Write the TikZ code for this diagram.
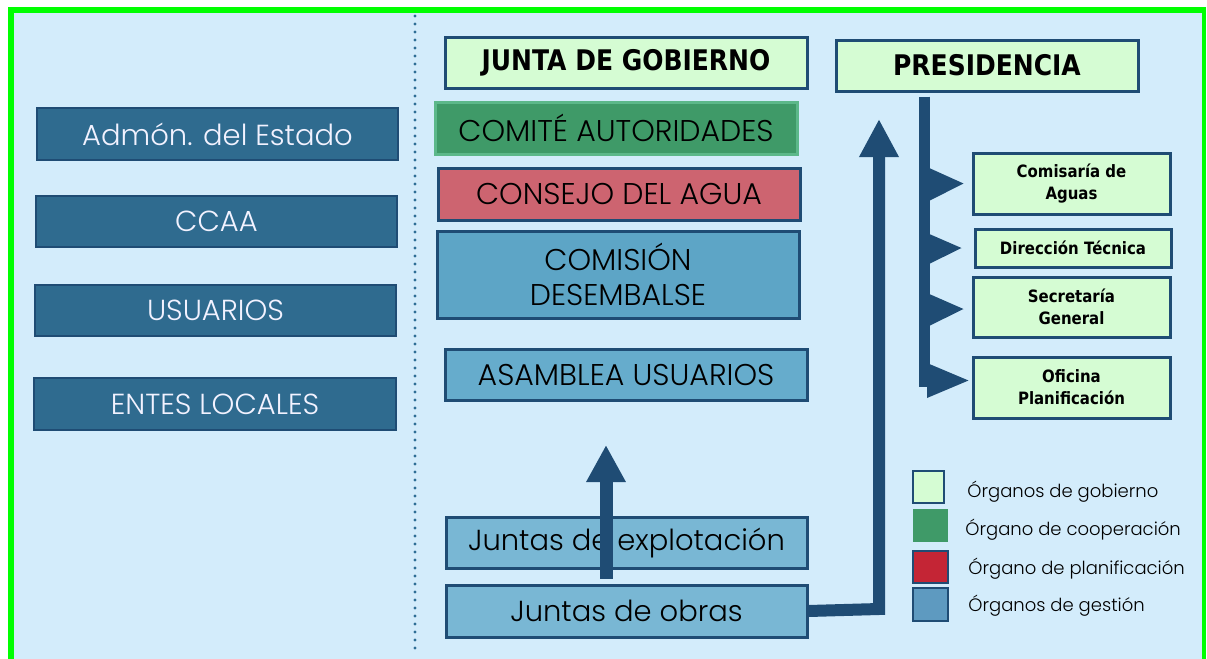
\documentclass[tikz,border=0pt]{standalone}
\usepackage{fontspec}
\setmainfont{Poppins}[UprightFont={* Light}]
\newfontfamily\tah[FakeStretch=0.88]{DejaVu Sans}
\usetikzlibrary{arrows.meta,calc}
\definecolor{bgblue}{HTML}{D3ECFB}
\definecolor{grn}{HTML}{00FF00}
\definecolor{navy}{HTML}{1F4C74}
\definecolor{lblue}{HTML}{2F6B8F}
\definecolor{govgreen}{HTML}{D5FCD3}
\definecolor{coopgreen}{HTML}{3F9A68}
\definecolor{coopedge}{HTML}{5CB88A}
\definecolor{planred}{HTML}{CD6470}
\definecolor{gestblue}{HTML}{5DA5C6}
\definecolor{asamblue}{HTML}{66ACCC}
\definecolor{juntblue}{HTML}{79B7D4}
\definecolor{legred}{HTML}{C42535}
\definecolor{legblue}{HTML}{5E9AC0}
\definecolor{dotblue}{HTML}{2E6E95}
\newcommand\mybox[7]{\node[#2,minimum width={(#5-#3)*0.5pt},minimum height={(#6-#4)*0.5pt}] (#1) at ({(#3+#5)/2},{(#4+#6)/2}) {#7};}
\begin{document}
\begin{tikzpicture}[x=0.5pt,y=-0.5pt,
 lbox/.style={draw=navy, line width=1pt, fill=lblue, text=white!95!blue, font=\fontsize{14.5}{16}\selectfont, inner sep=0pt},
 gov/.style={draw=navy, line width=1.5pt, fill=govgreen, inner sep=0pt, align=center},
 govbig/.style={gov, font=\tah\bfseries\fontsize{14.2}{16}\selectfont},
 govsmall/.style={gov, font=\tah\bfseries\fontsize{8.5}{11}\selectfont},
 mid/.style={draw=navy, line width=1.5pt, inner sep=0pt, font=\fontsize{15}{17.5}\selectfont, align=center},
 bigarrow/.style={draw=navy, line width=6pt, line join=miter, -{Triangle[width=18.5pt,length=19pt]}},
 bar/.style={draw=navy, line width=5.5pt},
 tooth/.style={fill=navy},
 leg/.style={font=\fontsize{9}{11}\selectfont, anchor=west, inner sep=0pt},
 swatch/.style={line width=1.2pt, inner sep=0pt}
]
\useasboundingbox (0,0) rectangle (1207,659);
\fill[white] (0,0) rectangle (1207,659);
\fill[grn] (8,7) rectangle (1206,659);
\fill[bgblue] (14,13) rectangle (1202,659);
% dotted separator
\draw[dotblue, line width=1.6pt, line cap=round, dash pattern=on 0pt off 4pt] (415,16) -- (415,655);

% left column
\mybox{estado}{lbox}{37}{108}{398}{160}{Admón. del Estado}
\mybox{ccaa}{lbox}{36}{196}{397}{247}{CCAA}
\mybox{usuarios}{lbox}{35}{285}{396}{336}{USUARIOS}
\mybox{entes}{lbox}{34}{378}{396}{430}{ENTES LOCALES}

% middle column
\mybox{junta}{govbig}{445}{37}{807}{88}{JUNTA DE GOBIERNO}
\mybox{comite}{mid, draw=coopedge, fill=coopgreen}{435}{102}{797}{154}{COMITÉ AUTORIDADES}
\mybox{consejo}{mid, fill=planred}{438}{168}{800}{220}{CONSEJO DEL AGUA}
\mybox{comision}{mid, fill=gestblue}{437}{231}{799}{318}{COMISIÓN\\DESEMBALSE}
\mybox{asamblea}{mid, fill=asamblue}{445}{349}{807}{400}{ASAMBLEA USUARIOS}
\mybox{explot}{mid, fill=juntblue, font=\fontsize{14.5}{17}\selectfont}{446}{517}{807}{568}{Juntas de explotación}
\mybox{obras}{mid, fill=juntblue, font=\fontsize{14.5}{17}\selectfont}{446}{585}{807}{637}{Juntas de obras}

% right column
\mybox{pres}{govbig}{836}{40}{1138}{91}{PRESIDENCIA}
\mybox{cda}{govsmall}{973}{153}{1170}{214}{Comisaría de\\Aguas}
\mybox{dt}{govsmall}{975}{229}{1171}{267}{Dirección Técnica}
\mybox{sg}{govsmall}{973}{277}{1170}{337}{Secretaría\\General}
\mybox{op}{govsmall}{973}{357}{1170}{418}{Oficina\\Planificación}

% presidencia comb
\draw[bar] ($(pres.south)+(-62.5,4)$) -- ($(pres.south)+(-62.5,294)$);
\fill[tooth] (927,167) -- ($(cda.west)+(-8,0)$) -- (927,202) -- cycle;
\fill[tooth] (927,233) -- ($(dt.west)+(-12,0)$) -- (927,265) -- cycle;
\fill[tooth] (927,293) -- ($(sg.west)+(-8,2)$) -- (927,327) -- cycle;
\fill[tooth] (927,363) -- ($(op.west)+(-3,-7)$) -- (927,398) -- cycle;

% arrows
\coordinate (bend) at (879,609);
\coordinate (bigtip) at (879,119);
\draw[bigarrow] (obras.east) -- (bend) -- (bigtip);
\coordinate (smalltip) at (606,445);
\draw[draw=navy, line width=6.5pt, -{Triangle[width=18.5pt,length=18.5pt]}] ($(obras.north)+(-20.5,-5)$) -- (smalltip);

% legend
\mybox{s1}{swatch, draw=navy, fill=govgreen}{913}{471}{944}{503}{}
\mybox{s2}{swatch, fill=coopgreen}{913}{509}{948}{542}{}
\mybox{s3}{swatch, draw=navy, fill=legred}{913}{551}{948}{583}{}
\mybox{s4}{swatch, draw=navy, fill=legblue}{913}{588}{948}{621}{}
\node[leg] (l1) at (967,492) {Órganos de gobierno};
\node[leg] (l2) at (965,530) {Órgano de cooperación};
\node[leg] (l3) at (968,569) {Órgano de planificación};
\node[leg] (l4) at (968,606) {Órganos de gestión};
\end{tikzpicture}
\end{document}
